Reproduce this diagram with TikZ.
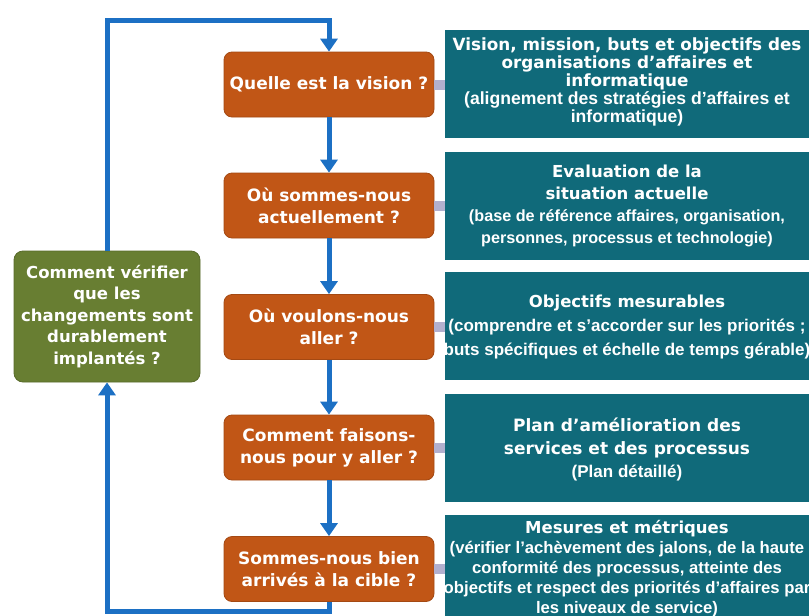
\documentclass[tikz,border=0pt]{standalone}
\usepackage{fontspec}
\setmainfont{Liberation Sans}
\newfontfamily\dv{DejaVu Sans}
\usetikzlibrary{arrows.meta}
\definecolor{orangeq}{RGB}{193,86,22}
\definecolor{greenq}{RGB}{104,126,50}
\definecolor{tealq}{RGB}{16,106,122}
\definecolor{blueq}{RGB}{28,112,196}
\definecolor{grayq}{RGB}{178,176,206}
\newcommand\pf[2]{\rmfamily\bfseries\fontsize{#1}{#2}\selectfont}
\tikzset{
  qbox/.style={fill=orangeq, draw=orangeq!85!black, line width=0.8pt, rounded corners=8pt,
    minimum width=210pt, minimum height=65pt, text=white, align=center,
    font=\dv\bfseries\fontsize{17}{22}\selectfont, inner sep=2pt},
  gbox/.style={fill=greenq, draw=greenq!85!black, line width=0.8pt, rounded corners=9pt,
    minimum width=186pt, minimum height=131pt, text=white, align=center,
    font=\dv\bfseries\fontsize{16.5}{21.5}\selectfont, inner sep=2pt},
  tbox/.style={fill=tealq, draw=none, minimum width=365pt, minimum height=108pt, inner sep=0pt},
  tlabel/.style={text=white, align=center, inner sep=0pt},
  link/.style={fill=grayq, draw=none, minimum width=11pt, minimum height=10pt, inner sep=0pt},
  flow/.style={draw=blueq, line width=5pt, -{Triangle[width=17pt,length=13pt]}},
}
\begin{document}
\begin{tikzpicture}[x=1pt,y=-1pt]
\useasboundingbox (0,0) rectangle (809,616);
\fill[white] (0,0) rectangle (809,616);
% teal boxes
\node[tbox] (t1) at (627.5,84) {};
\node[tbox] (t2) at (627.5,206) {};
\node[tbox] (t3) at (627.5,326) {};
\node[tbox] (t4) at (627.5,447.5) {};
\node[tbox] (t5) at (627.5,569) {};
\node[tlabel, font=\dv\bfseries\fontsize{16.8}{18}\selectfont] (l1) at (627,81.5)
  {Vision, mission, buts et objectifs des\\organisations d’affaires et\\informatique\\
   \pf{17.6}{18}(alignement des stratégies d’affaires et\\\pf{17.6}{18}informatique)};
\node[tlabel, font=\dv\bfseries\fontsize{16.5}{22}\selectfont] (l2) at (627,206)
  {Evaluation de la\\situation actuelle\\
   \pf{16.2}{22}(base de référence affaires, organisation,\\\pf{16.2}{22}personnes, processus et technologie)};
\node[tlabel, font=\dv\bfseries\fontsize{16.5}{24}\selectfont] (l3) at (627,327)
  {Objectifs mesurables\\
   \pf{17}{24}(comprendre et s’accorder sur les priorités ;\\\pf{17}{24}buts spécifiques et échelle de temps gérable)};
\node[tlabel, font=\dv\bfseries\fontsize{17}{23}\selectfont] (l4) at (627,449)
  {Plan d’amélioration des\\services et des processus\\\pf{17}{23}(Plan détaillé)};
\node[tlabel, font=\dv\bfseries\fontsize{16.5}{20}\selectfont] (l5) at (627,569)
  {Mesures et métriques\\
   \pf{16.7}{20}(vérifier l’achèvement des jalons, de la haute\\\pf{16.7}{20}conformité des processus, atteinte des\\\pf{16.7}{20}objectifs et respect des priorités d’affaires par\\\pf{16.7}{20}les niveaux de service)};
% orange boxes
\node[qbox] (q1) at (329,84.5) {Quelle est la vision ?};
\node[qbox] (q2) at (329,205.5) {Où sommes-nous\\actuellement ?};
\node[qbox] (q3) at (329,327) {Où voulons-nous\\aller ?};
\node[qbox] (q4) at (329,447.5) {Comment faisons-\\nous pour y aller ?};
\node[qbox] (q5) at (329,569) {Sommes-nous bien\\arrivés à la cible ?};
% green box
\node[gbox] (g) at (107,316.5) {Comment vérifier\\que les\\changements sont\\durablement\\implantés ?};
% gray links
\node[link] (k1) at (439.5,84.5) {};
\node[link] (k2) at (439.5,205.5) {};
\node[link] (k3) at (439.5,327) {};
\node[link] (k4) at (439.5,447.5) {};
\node[link] (k5) at (439.5,569) {};
% flow arrows
\draw[flow] (q1) -- (q2);
\draw[flow] (q2) -- (q3);
\draw[flow] (q3) -- (q4);
\draw[flow] (q4) -- (q5);
\coordinate (bot) at (0,611);
\coordinate (top) at (0,20);
\draw[flow] (q5.south) -- (q5.south |- bot) -| (g.south);
\draw[flow] (g.north) -- (g.north |- top) -| (q1.north);
\end{tikzpicture}
\end{document}
